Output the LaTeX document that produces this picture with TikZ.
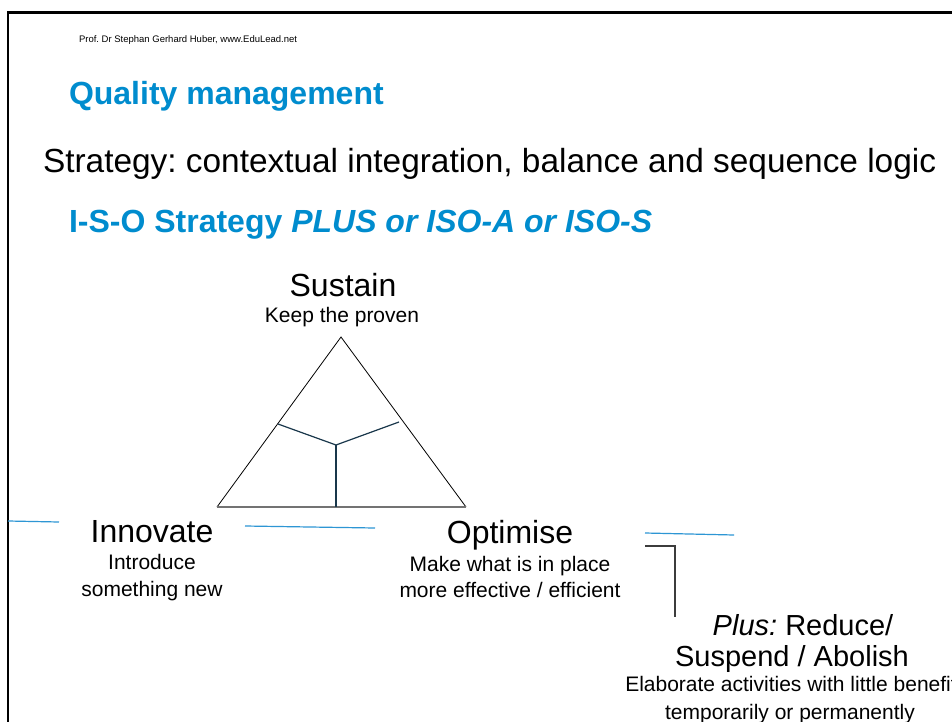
\documentclass[tikz,border=0pt]{standalone}
\usepackage{fontspec}
\setmainfont{Liberation Sans}
\definecolor{qblue}{RGB}{0,140,206}
\definecolor{lblue}{RGB}{45,150,212}
\definecolor{ynavy}{RGB}{25,55,75}
\definecolor{basegray}{RGB}{115,115,115}
\definecolor{brgray}{RGB}{60,60,60}
\newcommand{\fs}[1]{\fontsize{#1}{#1}\selectfont}
\frenchspacing
\begin{document}
\begin{tikzpicture}[x=1pt,y=-1pt,
  txt/.style={inner sep=0pt,outer sep=0pt,anchor=base},
  ltxt/.style={inner sep=0pt,outer sep=0pt,anchor=base west},
  head/.style={txt,font=\fs{32}},
  sub/.style={txt,font=\fs{21}},
  blueline/.style={lblue,line width=1.2pt},
  yline/.style={ynavy,line width=1.2pt},
  frame/.style={black,line width=2.6pt}]
\useasboundingbox (0,0) rectangle (952,722);
\clip (0,0) rectangle (952,722);
\fill[white] (0,0) rectangle (952,722);
% frame
\coordinate (fb) at (8,730);
\coordinate (fc) at (8,12.5);
\coordinate (fr) at (960,12.5);
\draw[frame] (fb) -- (fc) -- (fr);
% header texts
\node[ltxt,font=\fs{9.5}] (author) at (79,43) {Prof. Dr Stephan Gerhard Huber, www.EduLead.net};
\node[ltxt,font=\fs{32}\bfseries,text=qblue] (qm) at (69,105) {Quality management};
\node[ltxt,font=\fs{33.4}] (strat) at (43,173) {Strategy: contextual integration, balance and sequence logic};
\node[ltxt,font=\fs{32}\bfseries,text=qblue] (iso) at (69,232) {I-S-O Strategy \textit{PLUS or ISO-A or ISO-S}};
% triangle
\coordinate (apex) at (341,337);
\coordinate (bl) at (217,507);
\coordinate (br) at (466,507);
\draw[black,line width=0.8pt] (bl) -- (apex) -- (br);
\draw[basegray,line width=1.8pt] (bl) -- (br);
\coordinate (yc) at (336,445);
\coordinate (yl) at (278,424);
\coordinate (yr) at (399,422);
\coordinate (yb) at (336,507);
\draw[yline] (yl) -- (yc) -- (yr);
\draw[yline] (yc) -- (yb);
% labels
\node[head] (sustain) at (343,296) {Sustain};
\node[sub] (keep) at (342,322) {Keep the proven};
\node[head] (innov) at (152,542) {Innovate};
\node[sub] (intro) at (152,569) {Introduce};
\node[sub] (something) at (152,596) {something new};
\node[head] (optim) at (510,543) {Optimise};
\node[sub] (make) at (510,571) {Make what is in place};
\node[sub] (more) at (510,597) {more effective / efficient};
\node[txt,font=\fs{29}] (plus) at (803,635) {\textit{Plus:} Reduce/};
\node[txt,font=\fs{29}] (suspend) at (792,666) {Suspend / Abolish};
\node[sub] (elab) at (791,691) {Elaborate activities with little benefit};
\node[sub] (temp) at (790,719) {temporarily or permanently};
% blue lines
\coordinate (b1a) at (8,521);
\coordinate (b1b) at (59,522);
\coordinate (b2a) at (245,526);
\coordinate (b2b) at (375,528);
\coordinate (b3a) at (645,533);
\coordinate (b3b) at (734,535);
\draw[blueline] (b1a) -- (b1b);
\draw[blueline] (b2a) -- (b2b);
\draw[blueline] (b3a) -- (b3b);
% bracket
\coordinate (k1) at (645,546);
\coordinate (k2) at (675,546);
\coordinate (k3) at (675,617);
\draw[brgray,line width=1.2pt] (k1) -- (k2) -- (k3);
\end{tikzpicture}
\end{document}
